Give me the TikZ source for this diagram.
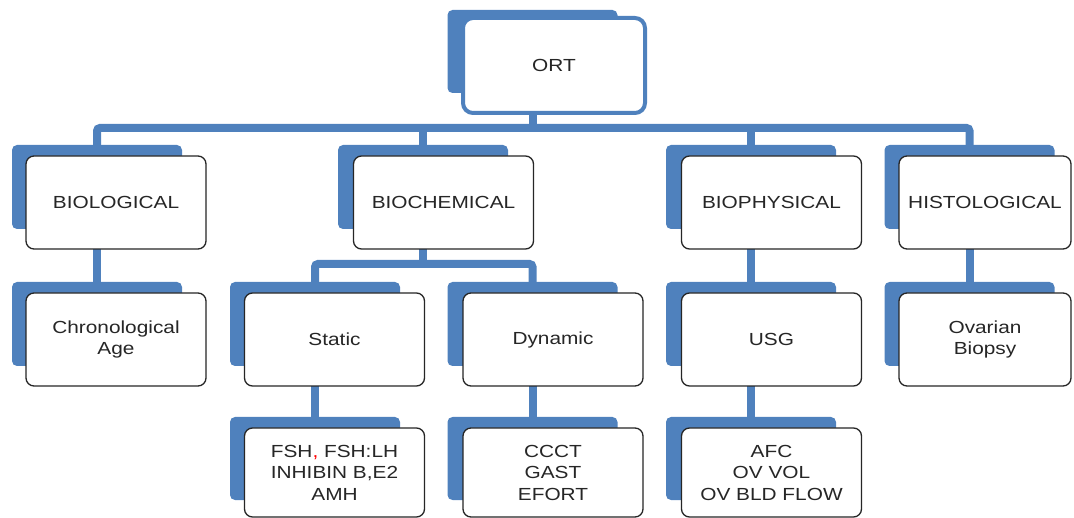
\documentclass[tikz,border=0pt]{standalone}
\usepackage{fontspec}
\setmainfont{Liberation Sans}[FakeStretch=1.19]
\usetikzlibrary{backgrounds}
\definecolor{ob}{RGB}{79,129,189}
\definecolor{txt}{RGB}{38,38,38}
\begin{document}
\begin{tikzpicture}[x=1pt,y=-1pt,
  back/.style={draw=none, fill=ob, rounded corners=5pt, minimum width=170pt, minimum height=84pt, inner sep=0pt},
  front/.style={draw=black!85, line width=1.3pt, fill=white, rounded corners=8pt, minimum width=180pt, minimum height=93pt, inner sep=0pt, align=center, font=\fontsize{17.5}{21.5}\selectfont, text=txt},
  low/.style={minimum height=83pt},
  lowf/.style={minimum height=89pt},
  conn/.style={draw=ob, line width=8pt, rounded corners=3pt}]
\useasboundingbox (0,0) rectangle (1074,518);
% top
\node[back, minimum height=83pt] (ortB) at (532.5,51.5) {};
\node[front, draw=ob, line width=4pt, minimum width=182pt, minimum height=95pt, rounded corners=10pt] (ort) at (554,65.5) {ORT};
% level 1
\node[back] (bioB) at (97,187) {};
\node[front] (bio) at (116,202.5) {BIOLOGICAL};
\node[back] (bchB) at (423,187) {};
\node[front] (bch) at (443.5,202.5) {BIOCHEMICAL};
\node[back] (bphB) at (751,187) {};
\node[front] (bph) at (771.5,202.5) {BIOPHYSICAL};
\node[back] (hisB) at (969.5,187) {};
\node[front, minimum width=172pt] (his) at (985,202.5) {HISTOLOGICAL};
% level 2
\node[back] (chrB) at (97,324) {};
\node[front] (chr) at (116,339.5) {Chronological\\Age};
\node[back] (staB) at (315,324) {};
\node[front] (sta) at (334.5,339.5) {Static};
\node[back] (dynB) at (532.5,324) {};
\node[front] (dyn) at (553,339.5) {Dynamic};
\node[back] (usgB) at (751,324) {};
\node[front] (usg) at (771.5,339.5) {USG};
\node[back] (ovaB) at (969.5,324) {};
\node[front, minimum width=172pt] (ova) at (985,339.5) {Ovarian\\Biopsy};
% level 3
\node[back, low] (fshB) at (315,458.5) {};
\node[front, lowf] (fsh) at (334.5,472.5) {FSH{\color{red},} FSH:LH\\INHIBIN B,E2\\AMH};
\node[back, low] (cccB) at (532.5,458.5) {};
\node[front, lowf] (ccc) at (553,472.5) {CCCT\\GAST\\EFORT};
\node[back, low] (afcB) at (751,458.5) {};
\node[front, lowf] (afc) at (771.5,472.5) {AFC\\OV VOL\\OV BLD FLOW};
% connectors
\begin{scope}[on background layer]
\coordinate (b1) at (0,128);
\coordinate (b2) at (0,264);
\draw[conn] (bioB.north) -- (bioB.north |- b1) -- (hisB.north |- b1) -- (hisB.north);
\draw[conn] (ortB.center) -- (ortB.center |- b1);
\draw[conn] (bchB.north |- b1) -- (bchB.north);
\draw[conn] (bphB.north |- b1) -- (bphB.north);
\draw[conn] (bchB.center) -- (bchB.center |- b2);
\draw[conn] (staB.north) -- (staB.north |- b2) -- (dynB.north |- b2) -- (dynB.north);
\draw[conn] (bioB.center) -- (chrB.center);
\draw[conn] (bphB.center) -- (usgB.center);
\draw[conn] (hisB.center) -- (ovaB.center);
\draw[conn] (staB.center) -- (fshB.center);
\draw[conn] (dynB.center) -- (cccB.center);
\draw[conn] (usgB.center) -- (afcB.center);
\end{scope}
\end{tikzpicture}
\end{document}
